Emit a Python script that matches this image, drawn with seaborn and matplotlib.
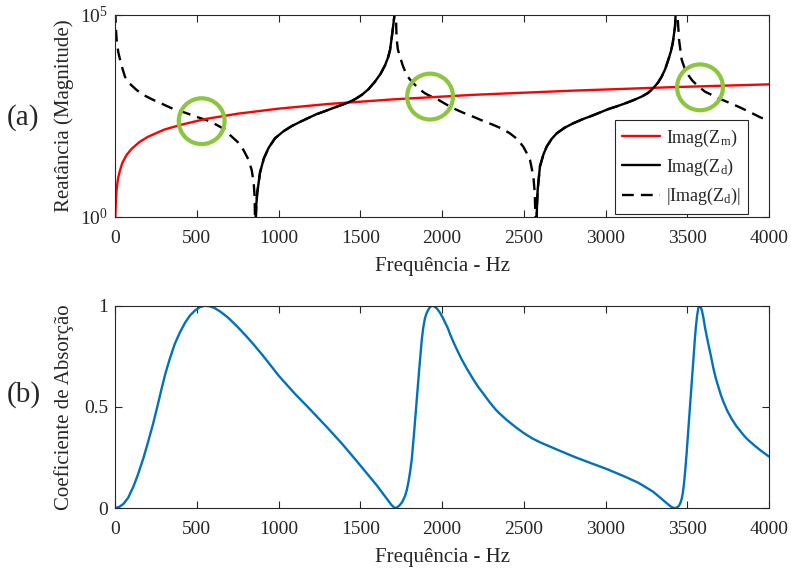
import matplotlib
matplotlib.use("Agg")
import numpy as np
import pandas as pd
import matplotlib.pyplot as plt
import seaborn as sns
from matplotlib.lines import Line2D
from matplotlib.ticker import NullLocator, FixedLocator, FixedFormatter

# ---- (a) reactances -------------------------------------------------------
freq_zm = [2, 3, 5, 7, 10, 15, 20, 30, 45, 70, 100, 150, 200, 300, 400, 550,
           750, 1000, 1300, 1700, 2200, 2800, 3400, 4000]
imag_zm = [1.0, 1.4, 2.4, 3.4, 4.8, 7.2, 9.6, 14, 22, 34, 48, 72, 96, 145, 190,
           265, 360, 480, 625, 815, 1060, 1340, 1630, 1920]

# signed Imag(Zd), branch by branch between the poles
freq_zd = [2, 5, 10, 20, 31, 45, 61, 90, 133, 180, 234, 300, 357, 430, 500, 560,
           622, 670, 703, 750, 785, 815, 836, 848, 854, 857,
           859, 864, 870, 887, 910, 940, 979, 1030, 1081, 1130, 1182, 1230, 1284,
           1350, 1417, 1470, 1509, 1550, 1590, 1625, 1651, 1670, 1682, 1696, 1708,
           1713,
           1718, 1720, 1723, 1730, 1743, 1760, 1784, 1805, 1835, 1860, 1896, 1935,
           1978, 2020, 2069, 2130, 2192, 2250, 2314, 2370, 2416, 2460, 2497, 2520,
           2538, 2559, 2567, 2574,
           2577, 2581, 2585, 2599, 2620, 2640, 2670, 2701, 2750, 2803, 2860, 2926,
           3017, 3070, 3119, 3170, 3221, 3260, 3292, 3320, 3343, 3365, 3384, 3400,
           3411, 3425, 3431,
           3434, 3441, 3450, 3466, 3485, 3507, 3530, 3558, 3609, 3650, 3690, 3750,
           3813, 3880, 3945, 4000]
imag_zd = [-126000, -50000, -24000, -12000, -7800, -4800, -2950, -2000, -1380,
           -1020, -790, -600, -470, -380, -300, -250, -190, -148, -107, -72, -46,
           -27, -14.5, -7.1, -3.2, -0.5,
           0.5, 2.0, 4.0, 12.6, 28, 52, 89, 132, 178, 224, 282, 347, 417, 525, 660,
           832, 1050, 1450, 2240, 3550, 5620, 8900, 13500, 35500, 91000, 200000,
           -158000, -50000, -24000, -14000, -9300, -5600, -3240, -2500, -1860,
           -1480, -1150, -955, -794, -630, -490, -380, -302, -240, -190, -151,
           -117, -85, -55, -37, -26, -10, -4, -0.5,
           0.5, 2.0, 4.7, 17.8, 35, 55, 85, 117, 162, 209, 263, 331, 468, 550, 646,
           776, 955, 1175, 1550, 2090, 2950, 4570, 7760, 12600, 20000, 51000,
           158000,
           -158000, -91000, -24000, -7760, -4700, -3240, -2400, -1860, -1260,
           -1050, -870, -690, -537, -400, -295, -240]

# marked crossings of Imag(Zm) and |Imag(Zd)|
cross_f = [530, 1927, 3578]
cross_val = [235, 955, 1620]

# ---- (b) absorption coefficient ----------------------------------------
freq_abs = [0, 25, 51, 80, 112, 140, 173, 200, 234, 260, 285, 310, 336, 365, 398,
            430, 459, 490, 520, 550, 580, 610, 642, 690, 744, 800, 846, 900, 950,
            1000, 1100, 1182, 1290, 1386, 1470, 1549, 1600, 1640, 1670, 1690, 1705,
            1713, 1725, 1740, 1757, 1774, 1785, 1795, 1805, 1815, 1830, 1845, 1860,
            1876, 1885, 1895, 1905, 1917, 1929, 1941, 1955, 1970, 1988, 2005, 2020,
            2035, 2049, 2070, 2090, 2120, 2151, 2192, 2220, 2253, 2294, 2330, 2355,
            2396, 2450, 2497, 2550, 2599, 2700, 2803, 2900, 3007, 3119, 3200, 3242,
            3292, 3343, 3380, 3400, 3415, 3428, 3440, 3450, 3458, 3466, 3473, 3480,
            3488, 3496, 3504, 3512, 3520, 3527, 3534, 3540, 3546, 3552, 3560, 3568,
            3575, 3582, 3590, 3600, 3609, 3620, 3629, 3645, 3660, 3675, 3690, 3705,
            3721, 3745, 3772, 3800, 3820, 3850, 3874, 3910, 3940, 3970, 4000]
alpha = [0.0, 0.005, 0.02, 0.05, 0.105, 0.165, 0.245, 0.32, 0.42, 0.505, 0.59,
         0.67, 0.74, 0.81, 0.87, 0.918, 0.952, 0.977, 0.993, 1.0, 0.997, 0.988,
         0.972, 0.942, 0.90, 0.852, 0.81, 0.758, 0.707, 0.655, 0.565, 0.497, 0.405,
         0.32, 0.24, 0.163, 0.113, 0.07, 0.038, 0.016, 0.004, 0.0, 0.003, 0.013,
         0.03, 0.06, 0.09, 0.13, 0.18, 0.24, 0.38, 0.53, 0.68, 0.83, 0.89, 0.935,
         0.962, 0.982, 0.995, 1.0, 0.995, 0.985, 0.965, 0.94, 0.915, 0.89, 0.86,
         0.82, 0.785, 0.735, 0.69, 0.635, 0.60, 0.565, 0.52, 0.485, 0.465, 0.435,
         0.40, 0.372, 0.345, 0.325, 0.29, 0.255, 0.225, 0.193, 0.155, 0.125, 0.105,
         0.08, 0.045, 0.02, 0.007, 0.001, 0.0, 0.004, 0.012, 0.025, 0.045, 0.075,
         0.12, 0.19, 0.27, 0.36, 0.45, 0.54, 0.62, 0.69, 0.76, 0.83, 0.89, 0.95,
         0.99, 1.0, 0.995, 0.975, 0.935, 0.89, 0.845, 0.81, 0.75, 0.69, 0.64, 0.60,
         0.56, 0.525, 0.48, 0.44, 0.405, 0.385, 0.355, 0.335, 0.31, 0.29, 0.272,
         0.254]

xticks = [0, 500, 1000, 1500, 2000, 2500, 3000, 3500, 4000]

# ---- style ----------------------------------------------------------------
sns.set_style("ticks")
ink = "#262626"
plt.rcParams.update({
    "font.family": ["Liberation Serif", "DejaVu Serif"],
    "mathtext.fontset": "custom",
    "mathtext.rm": "Liberation Serif",
    "mathtext.it": "Liberation Serif:italic",
    "axes.edgecolor": ink,
    "axes.linewidth": 0.8,
    "text.color": ink,
    "axes.labelcolor": ink,
    "xtick.color": ink,
    "ytick.color": ink,
})

fig = plt.figure(figsize=(7.91, 5.68), dpi=100)
ax1 = fig.add_axes([0.1454, 0.6180, 0.8268, 0.3556])
ax2 = fig.add_axes([0.1454, 0.1056, 0.8268, 0.3562])

red = "#ff0000"
blue = "#0072BD"
green = "#8cc63f"
lw = 1.7

# ---- panel (a) --------------------------------------------------------------
zd = pd.DataFrame({"f": freq_zd, "imag": imag_zd})
zd["branch"] = (np.sign(zd["imag"]).diff().fillna(0) != 0).cumsum()
zd["mag"] = zd["imag"].abs()

sns.lineplot(data=zd, x="f", y="mag", ax=ax1, color="k", lw=lw,
             linestyle=(0, (5, 3)), estimator=None, sort=False, legend=False)
sns.lineplot(x=freq_zm, y=imag_zm, ax=ax1, color=red, lw=lw,
             estimator=None, sort=False, legend=False)
sns.lineplot(data=zd[zd["imag"] > 0], x="f", y="imag", units="branch", ax=ax1,
             color="k", lw=lw, estimator=None, sort=False, legend=False)
ax1.scatter(cross_f, cross_val, s=33 ** 2, facecolors="none",
            edgecolors=green, linewidths=3.0, zorder=5)

ax1.set_yscale("log")
ax1.set_xlim(0, 4000)
ax1.set_ylim(1, 1e5)
ax1.yaxis.set_major_locator(FixedLocator([1, 1e5]))
ax1.yaxis.set_major_formatter(FixedFormatter([r"$\mathregular{10^0}$",
                                              r"$\mathregular{10^5}$"]))
ax1.yaxis.set_minor_locator(NullLocator())
ax1.set_xticks(xticks)
ax1.set_xticklabels([str(t) for t in xticks])
ax1.set_xlabel("Frequência - Hz", fontsize=15, labelpad=7)
ax1.set_ylabel("Reatância (Magnitude)", fontsize=15)

handles = [
    Line2D([], [], color=red, lw=lw),
    Line2D([], [], color="k", lw=lw),
    Line2D([], [], color="k", lw=lw, linestyle=(0, (5, 3))),
]
labels = [r"Imag(Z$_\mathregular{m}$)", r"Imag(Z$_\mathregular{d}$)",
          r"|Imag(Z$_\mathregular{d}$)|"]
leg = ax1.legend(handles, labels, loc="lower right",
                 bbox_to_anchor=(0.9675, 0.013), borderaxespad=0,
                 fontsize=13, handlelength=2.1, handletextpad=0.3,
                 labelspacing=0.45, borderpad=0.4, frameon=True, fancybox=False,
                 framealpha=1, edgecolor=ink)
leg.get_frame().set_linewidth(0.8)

# ---- panel (b) --------------------------------------------------------------
sns.lineplot(x=freq_abs, y=alpha, ax=ax2, color=blue, lw=lw,
             estimator=None, sort=False, legend=False)
ax2.set_xlim(0, 4000)
ax2.set_ylim(0, 1)
ax2.set_xticks(xticks)
ax2.set_xticklabels([str(t) for t in xticks])
ax2.set_yticks([0, 0.5, 1])
ax2.set_yticklabels(["0", "0.5", "1"])
ax2.set_xlabel("Frequência - Hz", fontsize=15, labelpad=7)
ax2.set_ylabel("Coeficiente de Absorção", fontsize=15)

for ax in (ax1, ax2):
    ax.tick_params(which="both", direction="in", top=True, right=True,
                   length=5, width=0.8, labelsize=14)
    ax.tick_params(axis="x", pad=9.5)
    ax.tick_params(axis="y", pad=5)
    for s in ax.spines.values():
        s.set_visible(True)
    ax.yaxis.set_label_coords(-0.062, 0.5)

fig.text(0.009, 1 - 118 / 568, "(a)", fontsize=21, va="center", ha="left")
fig.text(0.009, 1 - 395 / 568, "(b)", fontsize=21, va="center", ha="left")

fig.savefig("out.png", dpi=100)
